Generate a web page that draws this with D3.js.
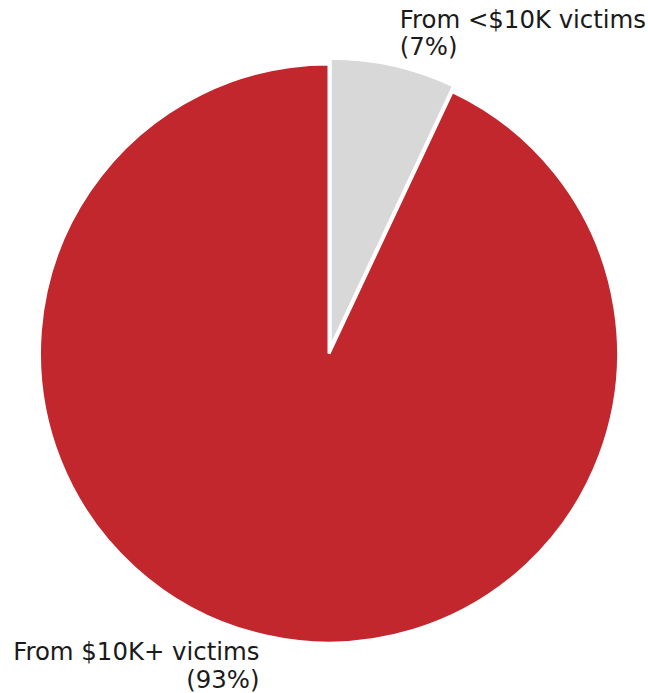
<!DOCTYPE html>
<html>
<head>
<meta charset="utf-8">
<script src="https://cdn.jsdelivr.net/npm/d3@7"></script>
<style>
  html, body { margin: 0; padding: 0; background: #fff; }
  svg { display: block; }
</style>
</head>
<body>
<svg id="chart" width="648" height="693"></svg>
<script>
// Share of losses by victim group
const labels = ["From <$10K victims", "From $10K+ victims"];
const shares = [7, 93];
const pctLabels = ["(7%)", "(93%)"];
const colors = ["#d8d8d8", "#c1272d"];
const explode = [0.02, 0];

const width = 648, height = 693;
const cx = 329, cy = 353.5, radius = 289.5;

const svg = d3.select("#chart");
const g = svg.append("g").attr("transform", `translate(${cx},${cy})`);

const pie = d3.pie().sort(null).value(d => d.value)
  .startAngle(0).endAngle(2 * Math.PI);

const data = pie(shares.map((v, i) => ({
  value: v, label: labels[i], pct: pctLabels[i], color: colors[i], explode: explode[i]
})));

const arc = d3.arc().innerRadius(0).outerRadius(radius);

function offset(d, dist) {
  const a = (d.startAngle + d.endAngle) / 2;
  return [Math.sin(a) * dist, -Math.cos(a) * dist];
}

g.selectAll("path.slice")
  .data(data)
  .join("path")
  .attr("class", "slice")
  .attr("d", arc)
  .attr("transform", d => {
    const [dx, dy] = offset(d, d.data.explode * radius);
    return `translate(${dx},${dy})`;
  })
  .attr("fill", d => d.data.color)
  .attr("stroke", "#fff")
  .attr("stroke-width", 3)
  .attr("stroke-linejoin", "miter");

// Labels sit at 1.1 radius along each slice bisector
const fontSize = 24.4, lineGap = 27.5;
const lab = g.selectAll("text.label")
  .data(data)
  .join("text")
  .attr("class", "label")
  .attr("font-family", "DejaVu Sans, sans-serif")
  .attr("font-size", fontSize)
  .attr("fill", "#1a1a1a")
  .attr("text-anchor", d => {
    const [x] = offset(d, 1);
    return x > 0 ? "start" : "end";
  })
  .attr("transform", d => {
    const [ex, ey] = offset(d, d.data.explode * radius);
    const [x, y] = offset(d, 1.1 * radius);
    return `translate(${x + ex},${y + ey})`;
  });

lab.append("tspan")
  .attr("x", 0)
  .attr("y", d => (offset(d, 1)[1] < 0 ? -9.5 : -4))
  .text(d => d.data.label);
lab.append("tspan")
  .attr("x", 0)
  .attr("dy", lineGap)
  .text(d => d.data.pct);
</script>
</body>
</html>
